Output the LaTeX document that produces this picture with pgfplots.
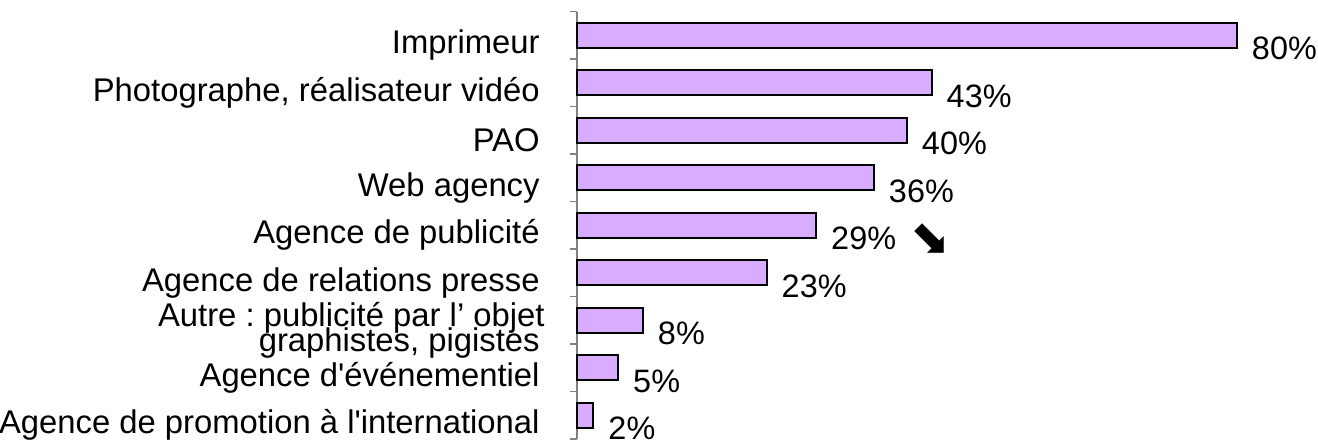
\documentclass[border=0pt]{standalone}
\usepackage{fontspec}
\setmainfont{Liberation Sans}
\newfontfamily\arrowfont{DejaVu Sans}
\usepackage{pgfplots}
\pgfplotsset{compat=1.18}
\definecolor{barfill}{HTML}{D8ADFF}
\definecolor{axisgray}{HTML}{808080}

\begin{document}
\begin{tikzpicture}
\begin{axis}[
    at={(288.5pt,-5.75pt)}, anchor=north west,
    scale only axis,
    width=330pt, height=213.75pt,
    xbar,
    bar width=12.5pt,
    xmin=0, xmax=80,
    ymin=0.5, ymax=9.5,
    y dir=reverse,
    hide x axis,
    axis y line*=left,
    axis line style={axisgray, line width=0.6pt},
    clip=false,
    ytick={1,...,9},
    yticklabels={Imprimeur, {Photographe, réalisateur vidéo}, PAO\hspace{2pt}, Web agency,
        Agence de publicité, Agence de relations presse,
        {\raisebox{-2pt}{\shortstack[r]{Autre : publicité par l’ objet\hspace*{-2.5pt}\\[-5.5pt]graphistes, pigistes}}},
        Agence d\textquotesingle événementiel,
        Agence de promotion à l\textquotesingle international},
    minor ytick={0.5,1.5,...,9.5},
    major tick length=0pt,
    minor tick length=3.5pt,
    tick align=outside,
    minor tick style={axisgray, line width=0.6pt},
    yticklabel style={font=\fontsize{16.4}{18}\selectfont\frenchspacing, anchor=east,
        inner sep=0pt, xshift=-18.5pt, yshift=-5pt},
    point meta=explicit symbolic,
    nodes near coords,
    nodes near coords style={font=\fontsize{16.2}{18}\selectfont,
        anchor=west, inner sep=0pt, xshift=7pt, yshift=-6.75pt},
]
\addplot[fill=barfill, draw=black, line width=1pt] coordinates {
    (80,1) [80\%]
    (43,2) [43\%]
    (40,3) [40\%]
    (36,4) [36\%]
    (29,5) [29\%\hspace{7pt}\raisebox{-2.5pt}{\arrowfont\fontsize{24}{24}\selectfont ⬊}]
    (23,6) [23\%]
    (8,7)  [8\%]
    (5,8)  [5\%]
    (2,9)  [2\%]
};
\end{axis}
\pgfresetboundingbox
\path[use as bounding box] (0pt,0pt) rectangle (659pt,-221.5pt);
\end{tikzpicture}
\end{document}
